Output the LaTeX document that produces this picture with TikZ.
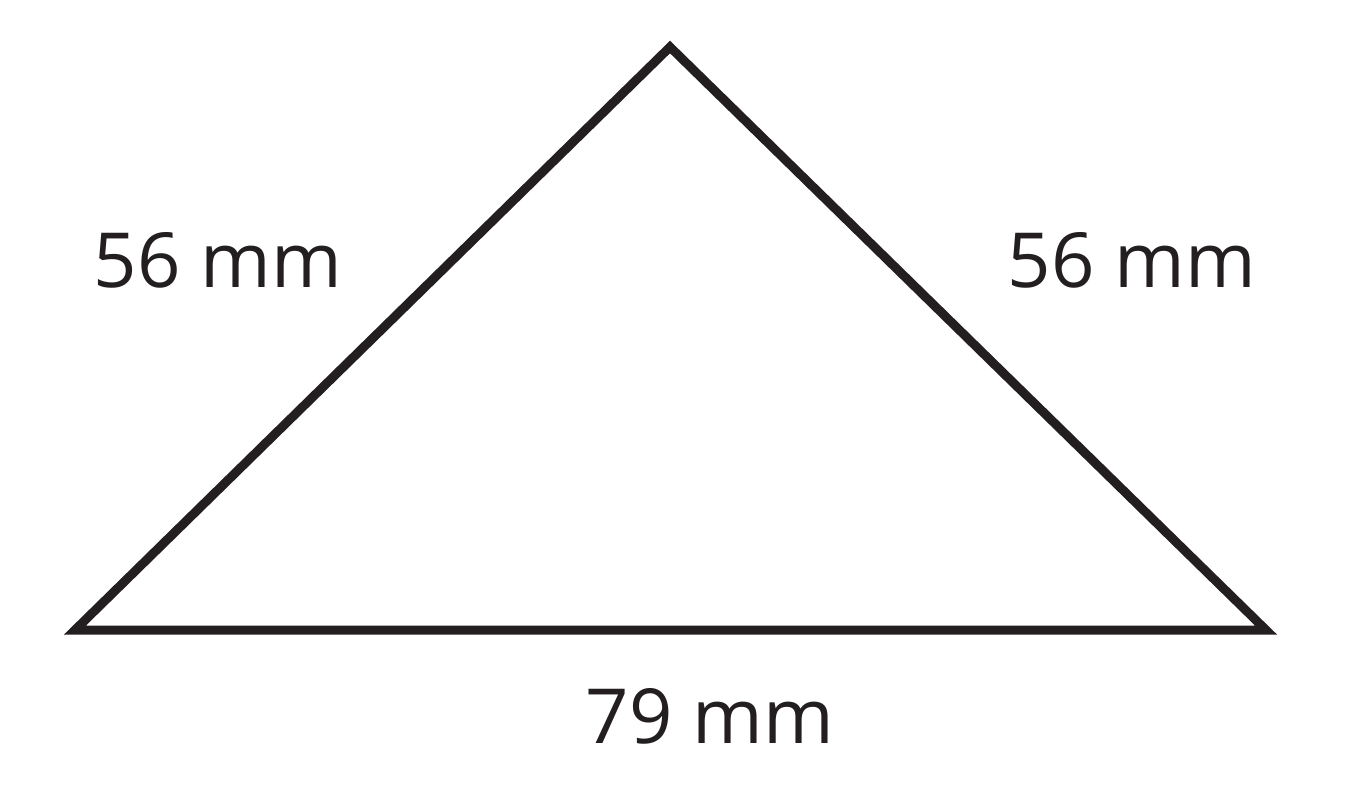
\documentclass[tikz,border=0pt]{standalone}
\usepackage{fontspec}
\setmainfont{Open Sans}
\definecolor{ink}{HTML}{231F20}
\begin{document}
\begin{tikzpicture}[x=1pt,y=-1pt,
  lbl/.style={font=\fontsize{76}{80}\selectfont, text=ink, anchor=base, inner sep=0pt}]
\useasboundingbox (0,0) rectangle (1352,791);
\coordinate (A) at (670,47);
\coordinate (B) at (75,630);
\coordinate (C) at (1266,630);
\draw[ink, line width=9pt, line join=miter] (A) -- (B) -- (C) -- cycle;
\node[lbl] (l1) at (218,288) {56 mm};
\node[lbl] (l2) at (1132,288) {56 mm};
\node[lbl] (l3) at (710,743) {79 mm};
\end{tikzpicture}
\end{document}
